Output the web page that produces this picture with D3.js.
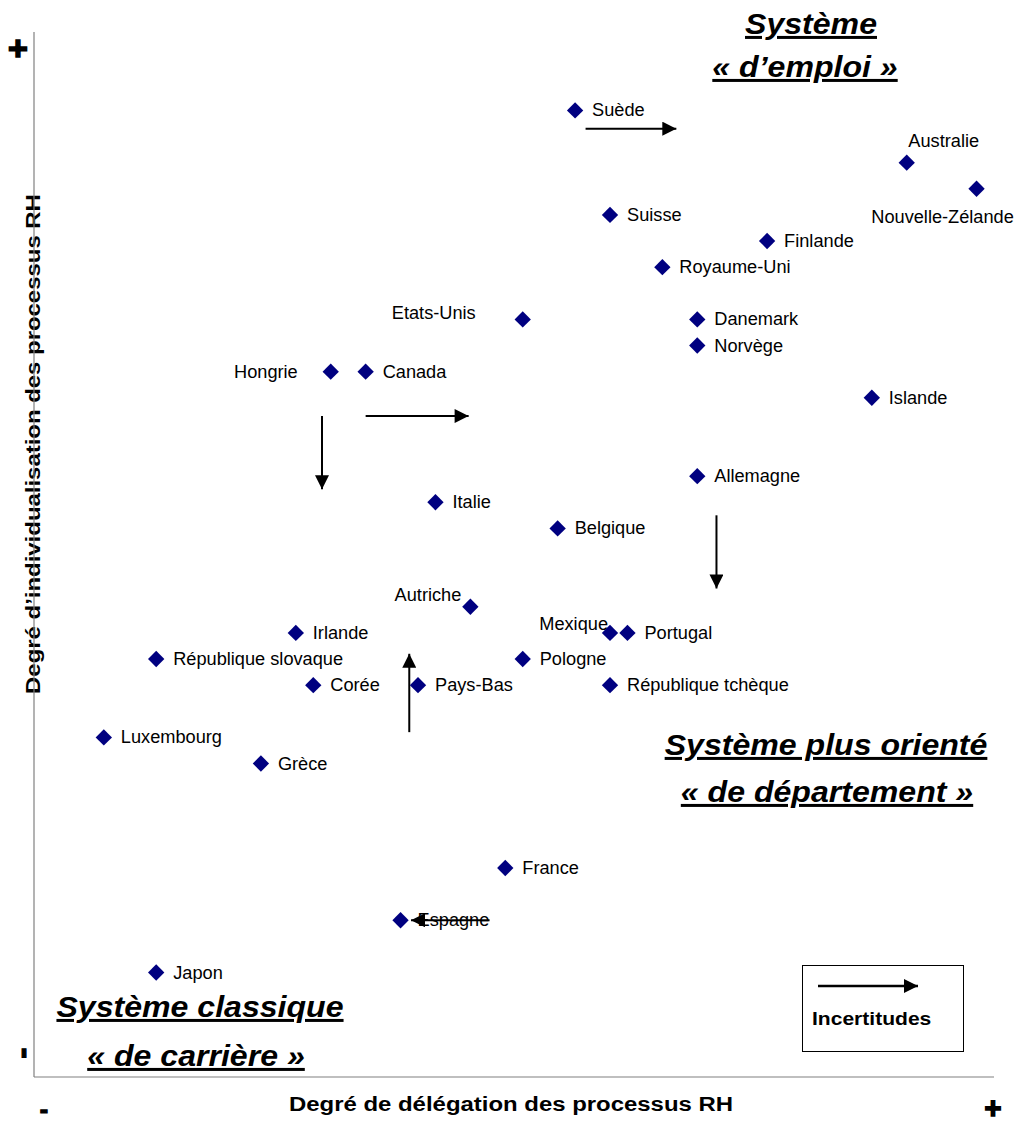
<!DOCTYPE html>
<html>
<head>
<meta charset="utf-8">
<script src="https://cdn.jsdelivr.net/npm/d3@7"></script>
<style>
  body { margin: 0; background: #fff; }
  svg { font-family: Arial, "Liberation Sans", sans-serif; }
</style>
</head>
<body>
<div id="chart"></div>
<script>
// data
const countries = ['Suède','Australie','Nouvelle-Zélande','Suisse','Finlande','Royaume-Uni',
  'Etats-Unis','Danemark','Norvège','Hongrie','Canada','Islande','Allemagne','Italie',
  'Belgique','Autriche','Mexique','Portugal','Irlande','République slovaque','Pologne',
  'Corée','Pays-Bas','République tchèque','Luxembourg','Grèce','France','Espagne','Japon'];
const delegation = [31,50,54,33,42,36,28,38,38,17,19,48,38,23,30,25,33,34,15,7,28,16,22,33,4,13,27,21,7];
const individualisation = [37,35,34,33,32,31,29,29,28,27,27,26,23,22,21,18,17,17,17,16,16,15,15,15,13,12,8,6,4];

// uncertainty arrows [x1, y1, x2, y2] in data units
const arrows = [
  [31.6, 36.3, 36.8, 36.3],
  [19.0, 25.3, 24.9, 25.3],
  [16.5, 25.3, 16.5, 22.5],
  [39.1, 21.5, 39.1, 18.7],
  [21.5, 13.2, 21.5, 16.2],
  [26.1, 6.0, 21.6, 6.0]
];

// label placement (pixel offsets from the marker), default is to the right
const labelOffset = {
  'Australie':        {dx: 37,  dy: -16, anchor: 'middle'},
  'Nouvelle-Zélande': {dx: -34, dy: 34,  anchor: 'middle'},
  'Etats-Unis':       {dx: -47, dy: 0,   anchor: 'end'},
  'Hongrie':          {dx: -33, dy: 6,   anchor: 'end'},
  'Autriche':         {dx: -9,  dy: -6,  anchor: 'end'},
  'Mexique':          {dx: -2,  dy: -3,  anchor: 'end'}
};

const W = 1015, H = 1124;
const x = d3.scaleLinear().domain([0, 55]).range([34, 994]);
const y = d3.scaleLinear().domain([0, 40]).range([1077, 32]);

const svg = d3.select('#chart').append('svg')
  .attr('width', W).attr('height', H)
  .attr('viewBox', [0, 0, W, H]);

svg.append('defs').append('marker')
  .attr('id', 'head')
  .attr('viewBox', '0 0 10 10')
  .attr('refX', 10).attr('refY', 5)
  .attr('markerUnits', 'userSpaceOnUse')
  .attr('markerWidth', 15).attr('markerHeight', 14)
  .attr('orient', 'auto')
  .append('path').attr('d', 'M0,0L10,5L0,10Z').attr('fill', '#000');

// text stretched a bit wider, like the original export
function wideText(sel, tx, ty, txt, o) {
  const t = sel.append('text')
    .attr('transform', `translate(${tx},${ty}) rotate(${o.rot || 0}) scale(${o.sx || 1},1)`)
    .attr('text-anchor', o.anchor || 'start')
    .attr('font-size', o.size)
    .attr('font-weight', o.weight || 'normal')
    .text(txt);
  if (o.italic) t.attr('font-style', 'italic');
  if (o.underline) t.attr('text-decoration', 'underline');
  if (o.heavy) t.attr('stroke', '#000').attr('stroke-width', o.heavy);
  return t;
}

// y label (drawn under the axis line)
wideText(svg, 40, 444, 'Degré d\u2019individualisation des processus RH',
  {rot: -90, sx: 1.14, size: 21, weight: 'bold', anchor: 'middle'});

// axes
svg.append('line')
  .attr('x1', x(0)).attr('x2', x(0)).attr('y1', y(40)).attr('y2', y(0))
  .attr('stroke', '#808080').attr('stroke-width', 1.2);
svg.append('line')
  .attr('x1', x(0)).attr('x2', x(55)).attr('y1', y(0)).attr('y2', y(0))
  .attr('stroke', '#808080').attr('stroke-width', 1.2);

wideText(svg, 511, 1111, 'Degré de délégation des processus RH',
  {sx: 1.14, size: 21, weight: 'bold', anchor: 'middle'});

// + / - signs
wideText(svg, 18, 60, '+', {size: 34, weight: 'bold', anchor: 'middle', heavy: 1.6});
wideText(svg, 993, 1118, '+', {size: 29, weight: 'bold', anchor: 'middle', heavy: 1.6});
wideText(svg, 44, 1118, '-', {size: 25, weight: 'bold', anchor: 'middle', heavy: 1.2});
wideText(svg, 33, 1053, '-', {rot: -90, size: 34, weight: 'bold', anchor: 'middle', heavy: 1});

// region titles
const regions = [
  {lines: ['Système', '\u00ab d\u2019emploi \u00bb'], cx: [811, 805], ys: [34, 77]},
  {lines: ['Système plus orienté', '\u00ab de département \u00bb'], cx: [826, 827], ys: [755, 802]},
  {lines: ['Système classique', '\u00ab de carrière \u00bb'], cx: [200, 196], ys: [1017, 1066]}
];
regions.forEach(r => {
  r.lines.forEach((t, i) => {
    wideText(svg, r.cx[i], r.ys[i], t,
      {sx: 1.07, size: 30, weight: 'bold', italic: true, underline: true, anchor: 'middle'});
  });
});

// arrows
svg.append('g').selectAll('line')
  .data(arrows)
  .join('line')
  .attr('x1', d => x(d[0])).attr('y1', d => y(d[1]))
  .attr('x2', d => x(d[2])).attr('y2', d => y(d[3]))
  .attr('stroke', '#000').attr('stroke-width', 2)
  .attr('marker-end', 'url(#head)');

// points
const pts = countries.map((c, i) => ({name: c, dx: delegation[i], dy: individualisation[i]}));
const sym = d3.symbol().type(d3.symbolDiamond2).size(170);
svg.append('g').selectAll('path')
  .data(pts)
  .join('path')
  .attr('d', sym)
  .attr('transform', d => `translate(${x(d.dx)},${y(d.dy)})`)
  .attr('fill', '#000080');

const labels = svg.append('g');
pts.forEach(d => {
  const o = labelOffset[d.name] || {dx: 17, dy: 6, anchor: 'start'};
  wideText(labels, x(d.dx) + o.dx, y(d.dy) + o.dy, d.name,
    {sx: 1.04, size: 17.5, anchor: o.anchor});
});

// legend
const lg = svg.append('g');
lg.append('rect').attr('x', 802.5).attr('y', 965.5).attr('width', 161).attr('height', 86)
  .attr('fill', '#fff').attr('stroke', '#000').attr('stroke-width', 1);
lg.append('line').attr('x1', 818).attr('x2', 918).attr('y1', 986).attr('y2', 986)
  .attr('stroke', '#000').attr('stroke-width', 2.5).attr('marker-end', 'url(#head)');
wideText(lg, 812, 1025, 'Incertitudes', {sx: 1.17, size: 18, weight: 'bold'});
</script>
</body>
</html>
